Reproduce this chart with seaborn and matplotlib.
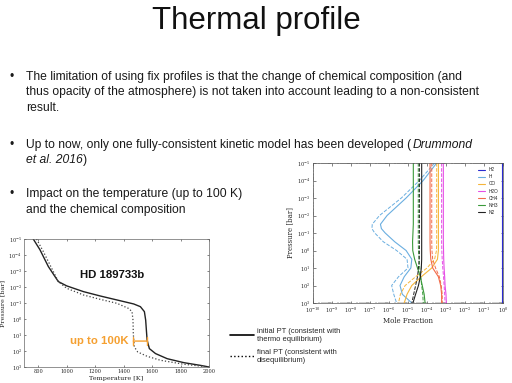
import numpy as np
import matplotlib
matplotlib.use("Agg")
import matplotlib.pyplot as plt
import seaborn as sns
from matplotlib.lines import Line2D
from matplotlib.ticker import FixedLocator, LogLocator, NullFormatter

# --- left panel: PT profile of HD 189733b (log10 of pressure in bar) ---
pt_logp_initial = [-5, -4.33, -3.28, -2.34, -2.07, -1.71, -1.44, -1.19, -0.94, -0.77,
                   -0.46, 0.07, 0.70, 1.32, 1.85, 2.16, 2.48, 2.73, 2.90, 3.0]
pt_temp_initial = [765, 812, 871, 941, 1000, 1118, 1235, 1353, 1471, 1518,
                   1546, 1555, 1560, 1565, 1581, 1624, 1706, 1824, 1941, 2000]
pt_logp_final = [-5, -4.23, -3.18, -2.34, -1.92, -1.50, -1.23, -0.98, -0.66, -0.46,
                 0.07, 0.91, 1.74, 2.06, 2.33, 2.58, 2.83, 3.0]
pt_temp_final = [788, 835, 894, 941, 1000, 1118, 1235, 1353, 1435, 1459,
                 1466, 1468, 1475, 1499, 1565, 1659, 1824, 2000]

# --- right panel: log10 mole fractions on a common pressure grid ---
chem_logp = [-5, -4, -3, -2, -1.5, -1.25, -1, -0.5, 0, 0.5, 1, 1.5, 2, 2.5, 3]
species = ["H2", "H", "CO", "H2O", "CH4", "NH3", "N2"]
colors = ["#2b2bd0", "#6aaee0", "#f5b53a", "#e64fe6", "#f26b4a", "#3a9a3a", "#222222"]

h2_init = [-0.04] * 15
h2_final = [-0.04] * 15
h_init = [-3.49, -4.2, -5.1, -6.1, -6.45, -6.4, -6.2, -5.7, -5.1, -4.8, -4.85, -5.2, -5.42, -5.3, -4.8]
h_final = [-3.6, -4.4, -5.35, -6.5, -6.88, -6.9, -6.75, -6.3, -5.6, -5.05, -5.0, -5.5, -5.86, -5.75, -5.6]
co_init = [-3.40, -3.40, -3.40, -3.40, -3.40, -3.40, -3.40, -3.40, -3.40, -3.45, -3.75, -4.3, -4.8, -5.05, -5.2]
co_final = [-3.49, -3.49, -3.49, -3.49, -3.49, -3.49, -3.49, -3.49, -3.5, -3.6, -4.0, -4.6, -5.15, -5.4, -5.5]
h2o_init = [-3.14, -3.14, -3.14, -3.14, -3.14, -3.14, -3.14, -3.14, -3.13, -3.12, -3.1, -3.07, -3.05, -3.0, -2.98]
h2o_final = [-3.23, -3.23, -3.23, -3.23, -3.23, -3.23, -3.23, -3.23, -3.22, -3.2, -3.17, -3.13, -3.1, -3.07, -3.05]
ch4_init = [-3.84, -3.84, -3.84, -3.84, -3.84, -3.84, -3.84, -3.84, -3.83, -3.8, -3.7, -3.4, -3.28, -3.23, -3.23]
ch4_final = [-3.75, -3.75, -3.75, -3.75, -3.75, -3.75, -3.75, -3.75, -3.74, -3.7, -3.55, -3.35, -3.25, -3.2, -3.2]
nh3_init = [-4.72, -4.72, -4.72, -4.72, -4.72, -4.73, -4.74, -4.76, -4.75, -4.65, -4.5, -4.35, -4.25, -4.15, -4.1]
nh3_final = [-4.46, -4.46, -4.46, -4.46, -4.46, -4.46, -4.46, -4.46, -4.45, -4.42, -4.38, -4.33, -4.28, -4.22, -4.2]
n2_init = [-4.28, -4.28, -4.28, -4.28, -4.28, -4.28, -4.28, -4.28, -4.28, -4.28, -4.3, -4.35, -4.45, -4.6, -4.74]
n2_final = [-4.40, -4.40, -4.40, -4.40, -4.40, -4.40, -4.40, -4.40, -4.40, -4.41, -4.45, -4.5, -4.6, -4.7, -4.8]

chem_init = [h2_init, h_init, co_init, h2o_init, ch4_init, nh3_init, n2_init]
chem_final = [h2_final, h_final, co_final, h2o_final, ch4_final, nh3_final, n2_final]

W, H = 512, 383
sns.set_theme(style="ticks")
plt.rcParams['font.family'] = ['Liberation Sans', 'DejaVu Sans']
plt.rcParams['xtick.direction'] = 'in'
plt.rcParams['ytick.direction'] = 'in'

fig = plt.figure(figsize=(W / 100, H / 100), dpi=100)
fig.patch.set_facecolor('white')

# title and bullets
fig.text(0.5, 1 - 21 / H, "Thermal profile", ha='center', va='center', fontsize=22.5,
         color='#111111')

body_fs = 8.7
txt_col = '#1a1a1a'
line_gap = 15.5
bullets = [
    (77, ["The limitation of using fix profiles is that the change of chemical composition (and",
          "thus opacity of the atmosphere) is not taken into account leading to a non-consistent",
          "result."]),
    (145, None),
    (194, ["Impact on the temperature (up to 100 K)",
           "and the chemical composition"]),
]
for y0, lines in bullets:
    fig.text(12 / W, 1 - y0 / H, "•", ha='center', va='center', fontsize=body_fs, color=txt_col)
    if lines:
        for i, ln in enumerate(lines):
            fig.text(26 / W, 1 - (y0 + i * line_gap) / H, ln, ha='left', va='center',
                     fontsize=body_fs, color=txt_col)

# second bullet with italic citation
renderer = fig.canvas.get_renderer()
t1 = fig.text(26 / W, 1 - 145 / H, "Up to now, only one fully-consistent kinetic model has been developed (",
              ha='left', va='center', fontsize=body_fs, color=txt_col)
bb = t1.get_window_extent(renderer)
fig.text(bb.x1 / W + 0.003, 1 - 145 / H, "Drummond", ha='left', va='center', fontsize=body_fs,
         style='italic', color=txt_col)
t2 = fig.text(26 / W, 1 - (145 + line_gap) / H, "et al. 2016", ha='left', va='center',
              fontsize=body_fs, style='italic', color=txt_col)
bb2 = t2.get_window_extent(renderer)
fig.text(bb2.x1 / W + 0.001, 1 - (145 + line_gap) / H, ")", ha='left', va='center',
         fontsize=body_fs, color=txt_col)

tick_fs = 3.6
serif = ['DejaVu Serif']

# --- left chart ---
ax1 = fig.add_axes([24 / W, 1 - 367 / H, 185 / W, 128 / H])
sns.lineplot(x=pt_temp_initial, y=np.power(10.0, pt_logp_initial), sort=False, estimator=None,
             ax=ax1, color='#222222', linewidth=1.0)
sns.lineplot(x=pt_temp_final, y=np.power(10.0, pt_logp_final), sort=False, estimator=None,
             ax=ax1, color='#444444', linewidth=0.9, linestyle=':')
ax1.set_yscale('log')
ax1.set_xlim(700, 2000)
ax1.set_ylim(1e3, 1e-5)
ax1.yaxis.set_major_locator(LogLocator(base=10, numticks=20))
ax1.yaxis.set_minor_formatter(NullFormatter())
ax1.xaxis.set_major_locator(FixedLocator([800, 1000, 1200, 1400, 1600, 1800, 2000]))
ax1.tick_params(labelsize=tick_fs, length=1.5, width=0.4, pad=1.5, top=True, right=True)
ax1.tick_params(which='minor', length=0)
for lab in ax1.get_xticklabels() + ax1.get_yticklabels():
    lab.set_family(serif)
for s in ax1.spines.values():
    s.set_linewidth(0.5)
    s.set_color('#666666')
ax1.set_xlabel("Temperature [K]", fontsize=4.6, labelpad=1.5, family=serif)
ax1.set_ylabel("Pressure [bar]", fontsize=4.6, labelpad=2, family=serif)
ax1.text(0.476, 0.72, "HD 189733b", transform=ax1.transAxes, ha='center', va='center',
         fontsize=8.2, fontweight='bold', color='#111111')
ax1.text(0.565, 0.205, "up to 100K", transform=ax1.transAxes, ha='right', va='center',
         fontsize=8.2, fontweight='bold', color='#f5a031')
ax1.annotate("", xy=(1468, 10 ** 1.38), xytext=(1566, 10 ** 1.38),
             arrowprops=dict(arrowstyle='|-|,widthA=0.25,widthB=0.25', color='#f5a031', lw=1.0,
                             shrinkA=0, shrinkB=0))

# legend for the PT curves
handles = [Line2D([], [], color='black', lw=1.2), Line2D([], [], color='black', lw=1.0, ls=':')]
fig.legend(handles=handles,
           labels=["initial PT (consistent with\nthermo equilibrium)",
                   "final PT (consistent with\ndisequilibrium)"],
           loc='upper left', bbox_to_anchor=(230 / W, 1 - 328 / H), frameon=False,
           fontsize=5.4, handlelength=3.2, handletextpad=0.4, labelspacing=0.75,
           borderpad=0, borderaxespad=0)

# --- right chart ---
ax2 = fig.add_axes([313 / W, 1 - 303 / H, 190 / W, 140 / H])
pvals = np.power(10.0, chem_logp)
for name, col, xi, xf in zip(species, colors, chem_init, chem_final):
    sns.lineplot(x=np.power(10.0, xi), y=pvals, sort=False, estimator=None, ax=ax2,
                 color=col, linewidth=0.8, label=name)
    sns.lineplot(x=np.power(10.0, xf), y=pvals, sort=False, estimator=None, ax=ax2,
                 color=col, linewidth=0.7, linestyle='--', dashes=(2, 1.5))
ax2.set_xscale('log')
ax2.set_yscale('log')
ax2.set_xlim(1e-10, 1)
ax2.set_ylim(1e3, 1e-5)
ax2.xaxis.set_major_locator(LogLocator(base=10, numticks=20))
ax2.yaxis.set_major_locator(LogLocator(base=10, numticks=20))
ax2.xaxis.set_minor_locator(LogLocator(base=10, subs=np.arange(2, 10), numticks=20))
ax2.yaxis.set_minor_locator(LogLocator(base=10, subs=np.arange(2, 10), numticks=20))
ax2.xaxis.set_minor_formatter(NullFormatter())
ax2.yaxis.set_minor_formatter(NullFormatter())
ax2.tick_params(labelsize=tick_fs, length=1.8, width=0.4, pad=2.0, top=True, right=True)
ax2.tick_params(which='minor', length=1.0, width=0.3, top=True, right=True)
for lab in ax2.get_xticklabels() + ax2.get_yticklabels():
    lab.set_family(serif)
for s in ax2.spines.values():
    s.set_linewidth(0.5)
    s.set_color('#555555')
ax2.set_xlabel("Mole Fraction", fontsize=5.0, labelpad=1.5, family=serif)
ax2.set_ylabel("Pressure [bar]", fontsize=5.0, labelpad=2, family=serif)
ax2.legend(loc='upper right', frameon=False, fontsize=3.4, handlelength=1.6,
           handletextpad=0.8, labelspacing=0.45, borderaxespad=0.5)

fig.savefig("out.png", dpi=100, facecolor='white')
